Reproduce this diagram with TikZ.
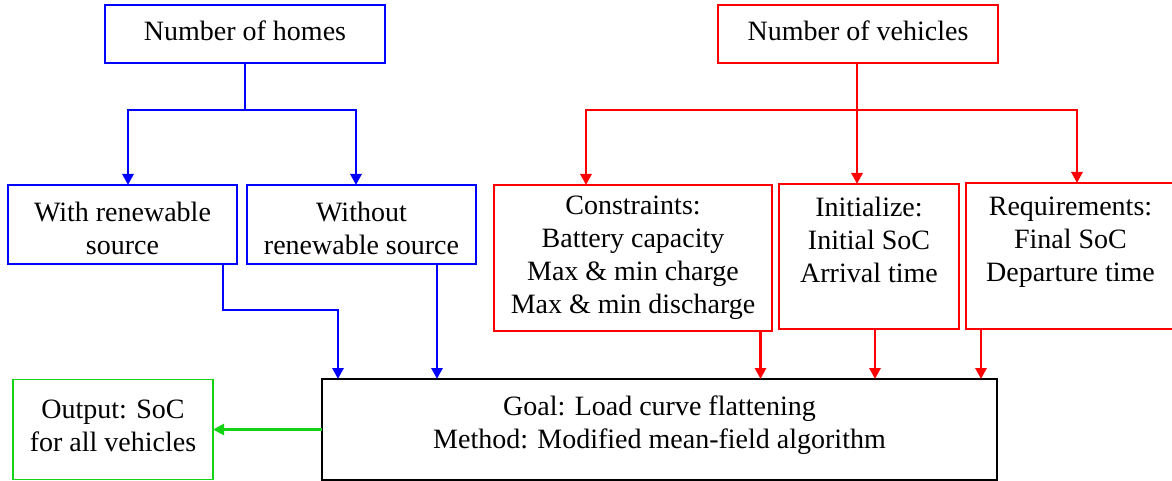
\documentclass[tikz,border=0pt]{standalone}
\usepackage{fontspec}
\newfontfamily\diagfont{Liberation Serif}
\usetikzlibrary{arrows.meta}

\definecolor{homeblue}{RGB}{0,0,255}
\definecolor{evred}{RGB}{255,0,0}
\definecolor{outgreen}{RGB}{20,210,20}

\begin{document}
\begin{tikzpicture}[x=1pt,y=-1pt,>={Triangle[width=11pt,length=11pt]},
    line width=2.8pt,
    box/.style={draw,line width=1.9pt,inner sep=0pt,outer sep=0pt,align=center,
      font=\diagfont\fontsize{28}{33}\selectfont},
    homebox/.style={box,homeblue},
    evbox/.style={box,evred},
    goalbox/.style={box,black},
    outbox/.style={box,outgreen}]

  \useasboundingbox (0,0) rectangle (1172,481);

  \node[homebox,text=black,minimum width=280pt,minimum height=58pt,text depth=6pt] (homes) at (245,34) {Number of homes};
  \node[evbox,text=black,minimum width=280pt,minimum height=58pt,text depth=6pt] (vehicles) at (858,34) {Number of vehicles};

  \node[homebox,text=black,minimum width=229pt,minimum height=79pt,text height=60pt] (withres) at (122.5,224.5) {With renewable\\source};
  \node[homebox,text=black,minimum width=229pt,minimum height=79pt,text height=60pt] (without) at (361.5,224.5) {Without\\renewable source};

  \node[evbox,text=black,minimum width=278pt,minimum height=146pt] (cons) at (633,258)
    {Constraints:\\Battery capacity\\Max \& min charge\\Max \& min discharge};
  \node[evbox,text=black,minimum width=180pt,minimum height=145pt] (init) at (869,256.5)
    {Initialize:\\Initial SoC\\Arrival time\\\mbox{}};
  \node[evbox,text=black,minimum width=209pt,minimum height=146pt] (req) at (1070.5,256)
    {Requirements:\\Final SoC\\Departure time\\\mbox{}};

  \node[goalbox,minimum width=675pt,minimum height=101pt,text depth=14pt] (goal) at (659.5,429.5)
    {Goal: Load curve flattening\\Method: Modified mean-field algorithm};
  \node[outbox,text=black,minimum width=200pt,minimum height=100pt,text depth=7pt] (output) at (113,429.5)
    {Output: SoC\\for all vehicles};

  \coordinate (hsplit) at (245,110);
  \coordinate (vsplit) at (857,110);

  % homes
  \draw[homeblue] (homes.south) -- (hsplit);
  \draw[homeblue,->] (hsplit) -| ([xshift=5.5]withres.north);
  \draw[homeblue,->] (hsplit) -| ([xshift=-5.5]without.north);

  % vehicles
  \draw[evred] (vehicles.south -| vsplit) -- (vsplit);
  \draw[evred,->] (vsplit) -| ([xshift=-47]cons.north);
  \draw[evred,->] (vsplit) -- (vsplit |- init.north);
  \draw[evred,->] (vsplit) -| ([xshift=6.5]req.north);

  % into goal
  \draw[homeblue,->] ([xshift=100.5]withres.south) -- ++(0,46) -| ([xshift=-321.5]goal.north);
  \draw[homeblue,->] ([xshift=75.5]without.south) -- ([xshift=75.5]without.south |- goal.north);
  \draw[evred,->] ([xshift=127.5]cons.south) -- ([xshift=127.5]cons.south |- goal.north);
  \draw[evred,->] ([xshift=6]init.south) -- ([xshift=6]init.south |- goal.north);
  \draw[evred,->] ([xshift=-89.5]req.south) -- ([xshift=-89.5]req.south |- goal.north);

  % output
  \draw[outgreen,->] (goal.west) -- (output.east);

\end{tikzpicture}
\end{document}
